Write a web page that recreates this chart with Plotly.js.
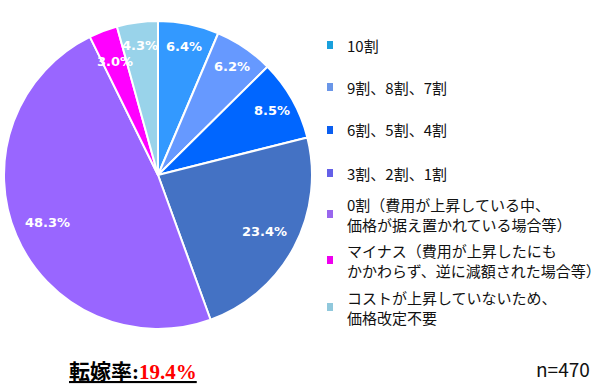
<!DOCTYPE html>
<html><head><meta charset="utf-8">
<script src="https://cdn.plot.ly/plotly-3.0.1.min.js"></script>
<style>html,body{margin:0;padding:0;background:#fff}#c{width:602px;height:390px}</style>
</head><body><div id="c"></div>
<script>
const categories = ["10割","9割、8割、7割","6割、5割、4割","3割、2割、1割",
  "0割（費用が上昇している中、<br>価格が据え置かれている場合等）",
  "マイナス（費用が上昇したにも<br>かかわらず、逆に減額された場合等）",
  "コストが上昇していないため、<br>価格改定不要"];
const values = [6.4, 6.2, 8.5, 23.4, 48.3, 3.0, 4.3];
const valueLabels = ["6.4%","6.2%","8.5%","23.4%","48.3%","3.0%","4.3%"];
const sliceColors = ["#3399FF","#6699FF","#0066FF","#4472C4","#9966FF","#FF00FF","#99D3EA"];
const legendColors = ["#1AA0DC","#6A96E8","#0A5EF0","#6460E8","#9966EE","#EE00EE","#90C8DC"];
const rateLabel = "転嫁率:";
const rateValue = "19.4%";
const nLabel = "n=470";

const W = 602, H = 390;
const cx = 158, cy = 175, R = 154;
const px = x => x / W, py = y => 1 - y / H;

const trace = {
  type: "pie", values: values, labels: categories, sort: false,
  direction: "clockwise", rotation: 0, textinfo: "none", hoverinfo: "none",
  marker: {colors: sliceColors, line: {color: "#FFFFFF", width: 2}},
  domain: {x: [px(cx - R), px(cx + R)], y: [py(cy + R), py(cy - R)]},
  showlegend: false
};

const annotations = [];
const total = values.reduce((a, b) => a + b, 0);
const minV = Math.min(...values);
let cum = 0;
values.forEach((v, i) => {
  const mid = (cum + v / 2) / total * 2 * Math.PI;
  cum += v;
  const frac = v >= 10 ? 0.78 : (v === minV ? 0.79 : 0.85);
  const rr = R * frac;
  annotations.push({
    x: px(cx + rr * Math.sin(mid)), y: py(cy - rr * Math.cos(mid)),
    xref: "paper", yref: "paper", showarrow: false, text: "<b>" + valueLabels[i] + "</b>",
    font: {family: "DejaVu Sans", size: 13, color: "#FFFFFF"}, xanchor: "center", yanchor: "middle"
  });
});

const legendY = [45, 87, 130, 173, 214, 260, 307];
const shapes = [];
categories.forEach((c, i) => {
  annotations.push({
    x: px(345), y: py(legendY[i]), xref: "paper", yref: "paper", showarrow: false,
    text: c, align: "left", xanchor: "left", yanchor: "middle",
    font: {family: "Noto Sans CJK JP", size: 15, color: "#111111"}
  });
  shapes.push({type: "rect", xref: "paper", yref: "paper",
    x0: px(327), x1: px(333), y0: py(legendY[i] + 4), y1: py(legendY[i] - 4),
    fillcolor: legendColors[i], line: {width: 0}});
});

annotations.push({
  x: px(67), y: py(372), xref: "paper", yref: "paper", showarrow: false, xanchor: "left", yanchor: "middle",
  text: "<b><u>" + rateLabel + "<span style='color:#FF0000'>" + rateValue + "</span></u></b>",
  font: {family: "Liberation Serif, Noto Sans CJK JP", size: 21, color: "#000000"}
});
annotations.push({
  x: px(592), y: py(368), xref: "paper", yref: "paper", showarrow: false, xanchor: "right", yanchor: "middle",
  text: nLabel, font: {family: "Noto Sans CJK JP", size: 19, color: "#111111"}
});

Plotly.newPlot("c", [trace], {
  width: W, height: H, margin: {l: 0, r: 0, t: 0, b: 0},
  paper_bgcolor: "#FFFFFF", annotations: annotations, shapes: shapes, showlegend: false
}, {staticPlot: true});
</script></body></html>
